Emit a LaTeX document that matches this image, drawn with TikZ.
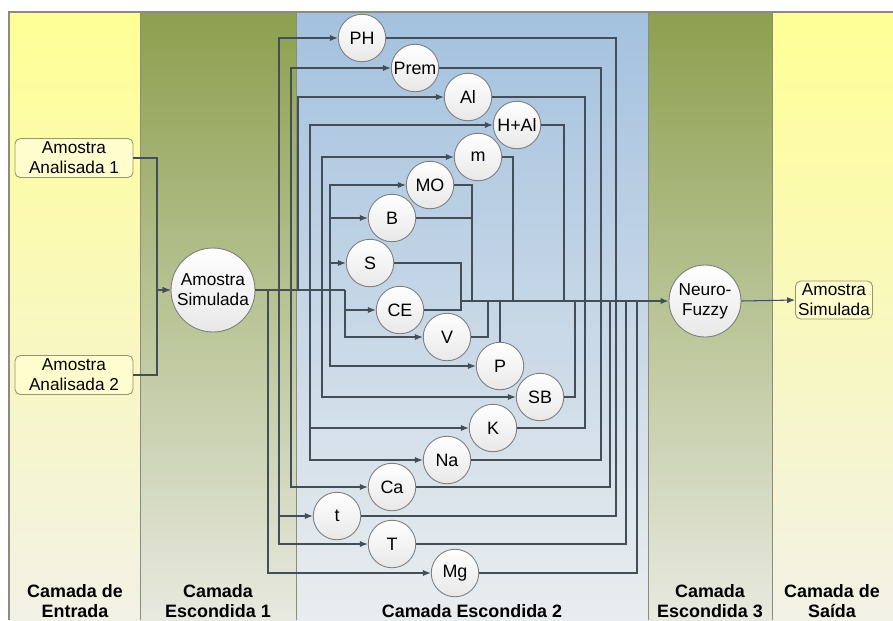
\documentclass[tikz,border=0pt]{standalone}
\usepackage{fontspec}
\setmainfont{Liberation Sans}
\usetikzlibrary{arrows.meta}

\begin{document}
\begin{tikzpicture}[x=0.02cm, y=-0.02cm,
    wire/.style={draw=linegray, line width=0.6pt},
    arr/.style={wire, -{Latex[length=4.5pt,width=3.5pt]}},
    neuron/.style={circle, draw=circgray, line width=0.5pt, inner sep=0pt,
        minimum size=0.95cm, top color=white, bottom color=black!9,
        font=\fontsize{10.2}{11.4}\selectfont, align=center},
    bigneuron/.style={neuron, minimum size=1.68cm, font=\fontsize{9.8}{11.4}\selectfont},
    sample/.style={rectangle, rounded corners=3pt, draw=boxgray, fill=boxfill,
        line width=0.5pt, align=center, inner sep=1pt,
        font=\fontsize{9.8}{11.4}\selectfont},
    layerlabel/.style={font=\bfseries\fontsize{10.2}{11.4}\selectfont,
        align=center, anchor=south, inner sep=0pt}]

    % Cores
    \definecolor{linegray}{RGB}{68,78,88}
    \definecolor{circgray}{RGB}{125,125,125}
    \definecolor{boxgray}{RGB}{150,150,110}
    \definecolor{boxfill}{RGB}{255,253,205}
    \definecolor{yeltop}{RGB}{255,255,150}
    \definecolor{yelbot}{RGB}{242,241,230}
    \definecolor{grntop}{RGB}{140,160,78}
    \definecolor{grnbot}{RGB}{232,233,224}
    \definecolor{blutop}{RGB}{163,193,222}
    \definecolor{blubot}{RGB}{234,237,239}
    \definecolor{framegray}{RGB}{140,140,125}

    \useasboundingbox (0,0) rectangle (893,620);

    % Faixas das camadas
    \shade[top color=yeltop, bottom color=yelbot] (9,12) rectangle (140,620);
    \shade[top color=grntop, bottom color=grnbot] (140,12) rectangle (296,620);
    \shade[top color=blutop, bottom color=blubot] (296,12) rectangle (648,620);
    \shade[top color=grntop, bottom color=grnbot] (648,12) rectangle (772,620);
    \shade[top color=yeltop, bottom color=yelbot] (772,12) rectangle (893,620);
    \draw[framegray, line width=0.6pt] (893,12) -- (9,12) -- (9,620);
    \foreach \xb in {140,296,648,772}
        \draw[framegray, line width=0.5pt] (\xb,12) -- (\xb,620);

    % Nomes das camadas
    \node[layerlabel] (lab1) at (75,618) {Camada de\\Entrada};
    \node[layerlabel] (lab2) at (218,618) {Camada\\Escondida 1};
    \node[layerlabel] (lab3) at (472,618) {Camada Escondida 2};
    \node[layerlabel] (lab4) at (710,618) {Camada\\Escondida 3};
    \node[layerlabel] (lab5) at (832,618) {Camada de\\Saída};

    % Entradas e saida
    \node[sample, minimum width=2.36cm, minimum height=0.78cm] (aa1) at (74,158) {Amostra\\Analisada 1};
    \node[sample, minimum width=2.36cm, minimum height=0.78cm] (aa2) at (74,375) {Amostra\\Analisada 2};
    \node[bigneuron] (as) at (213,290) {Amostra\\Simulada};
    \node[bigneuron, minimum size=1.44cm] (nf) at (705,301) {Neuro-\\Fuzzy};
    \node[sample, minimum width=1.54cm, minimum height=0.76cm] (out) at (834,300) {Amostra\\Simulada};

    % Neuronios da camada escondida 2
    \node[neuron] (ph) at (362,38) {PH};
    \node[neuron] (prem) at (415,68) {Prem};
    \node[neuron] (al) at (468,97) {Al};
    \node[neuron] (hal) at (517,125) {H+Al};
    \node[neuron] (m) at (478,157) {m};
    \node[neuron] (mo) at (430,185) {MO};
    \node[neuron] (b) at (392,218) {B};
    \node[neuron] (s) at (370,263) {S};
    \node[neuron] (ce) at (400,310) {CE};
    \node[neuron] (v) at (447,337) {V};
    \node[neuron] (p) at (500,366) {P};
    \node[neuron] (sb) at (540,397) {SB};
    \node[neuron] (k) at (493,428) {K};
    \node[neuron] (na) at (447,460) {Na};
    \node[neuron] (ca) at (392,487) {Ca};
    \node[neuron] (t) at (337,516) {t};
    \node[neuron] (tt) at (392,544) {T};
    \node[neuron] (mg) at (455,573) {Mg};

    % Entradas -> Amostra Simulada
    \coordinate (jin) at (157,290);
    \draw[arr] (aa1.east) -| (jin) -- (as.west);
    \draw[arr] (aa2.east) -| (jin) -- (as.west);

    % Amostra Simulada -> camada 2
    \coordinate (tin) at (345,290);
    \draw[wire] (as.east) -- (tin);
    \foreach \xi/\targets in {268/{mg}, 279/{ph,t,tt}, 291/{prem,ca}, 298/{al},
                             310/{hal,na,k}, 322/{m,sb}, 330/{mo,b,s,p}, 345/{ce,v}} {
        \coordinate (in\xi) at (\xi,290);
        \foreach \tg in \targets
            \draw[arr] (in\xi) |- (\tg);
    }

    % Camada 2 -> Neuro-Fuzzy
    \coordinate (tout) at (461,301);
    \draw[arr] (tout) -- (nf.west);
    \foreach \src/\xo in {ph/616, prem/601, al/585, hal/564, m/513, mo/472, b/472,
                          s/461, ce/461, v/488, sb/575, k/585, na/601, ca/610,
                          t/616, tt/626, mg/637} {
        \coordinate (out\src) at (\xo,301);
        \draw[wire] (\src.east) -| (out\src);
    }
    \draw[wire] (p.north) -- (p.north |- tout);

    % Neuro-Fuzzy -> saida
    \draw[arr] (nf.east) -- (out.west);

\end{tikzpicture}
\end{document}
